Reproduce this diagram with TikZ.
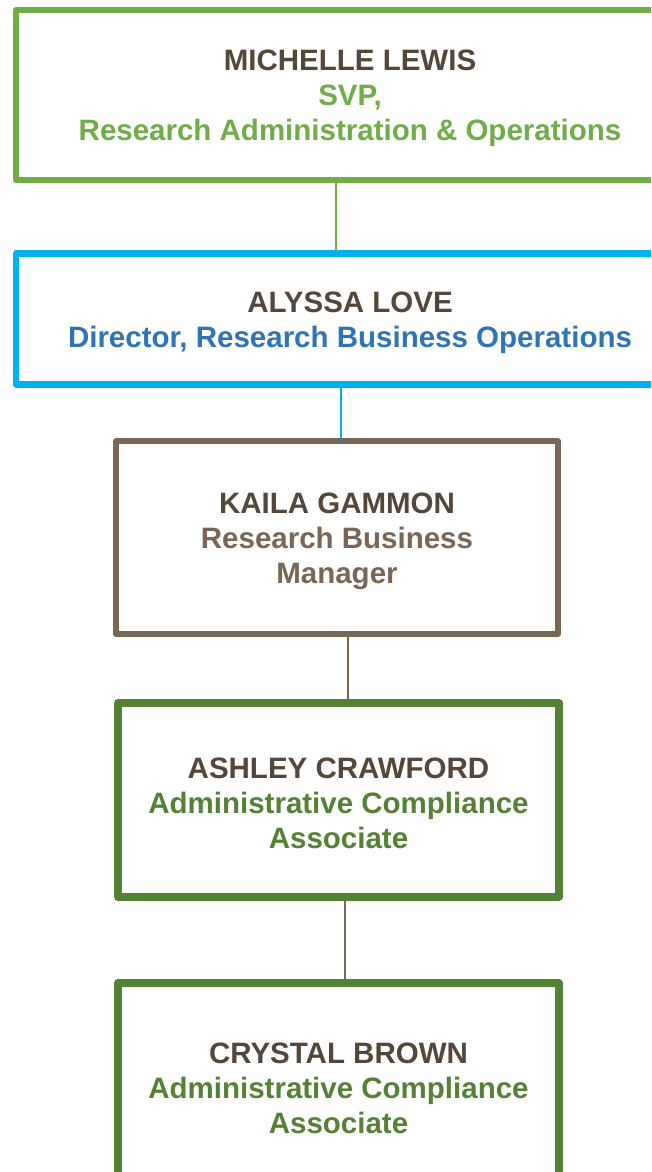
\documentclass[tikz,border=0pt]{standalone}
\usepackage{fontspec}
\setmainfont{Liberation Sans}
\usetikzlibrary{positioning}

\definecolor{namebrown}{RGB}{85,70,58}
\definecolor{svpgreen}{RGB}{112,173,71}
\definecolor{dircyan}{RGB}{0,176,240}
\definecolor{dirblue}{RGB}{46,117,182}
\definecolor{mgrbrown}{RGB}{122,102,84}
\definecolor{assocgreen}{RGB}{84,130,53}
\newcommand{\nm}[1]{\rule{0pt}{28pt}\textcolor{namebrown}{#1}}

\begin{document}
\begin{tikzpicture}[line cap=round,line join=round,x=1pt,y=-1pt,
		box/.style={draw,rectangle,fill=white,align=center,inner sep=0pt,
			font=\fontsize{29.5}{35}\selectfont\bfseries},
		lnk/.style={line width=2.5pt}]
		\useasboundingbox (0,0) rectangle (651,1172);
		\clip (0,0) rectangle (651,1172);
		%%%%%%%%%%%%%%% B O X E S %%%%%%%%%%%%%%%%
		%svp
		\node[box,line width=6.5pt,draw=svpgreen,text=svpgreen,minimum width=668pt,minimum height=170pt] (lewis) at (350,95)
			{\nm{MICHELLE LEWIS}\\SVP,\\Research Administration \& Operations};
		%director
		\node[box,line width=6.5pt,draw=dircyan,text=dirblue,minimum width=668pt,minimum height=131pt] (love) at (350,319)
			{\nm{ALYSSA LOVE}\\Director, Research Business Operations};
		%manager
		\node[box,line width=5.5pt,draw=mgrbrown,text=mgrbrown,minimum width=442pt,minimum height=193pt] (gammon) at (337,537.5)
			{\nm{KAILA GAMMON}\\Research Business\\Manager};
		%associates
		\node[box,line width=8pt,draw=assocgreen,text=assocgreen,minimum width=441.5pt,minimum height=193.5pt] (crawford) at (338.5,800)
			{\nm{ASHLEY CRAWFORD}\\Administrative Compliance\\Associate};
		\node[box,line width=8pt,draw=assocgreen,text=assocgreen,minimum width=441pt,minimum height=204pt] (brown) at (338.5,1085)
			{\nm{CRYSTAL BROWN}\\Administrative Compliance\\Associate};
		%%%%%%%%%%%%%%% L I N K S %%%%%%%%%%%%%%%%
		\draw[lnk,svpgreen] (336,0 |- lewis.south) -- (336,0 |- love.north);
		\draw[lnk,dircyan] (341,0 |- love.south) -- (341,0 |- gammon.north);
		\draw[lnk,mgrbrown] (348,0 |- gammon.south) -- (348,0 |- crawford.north);
		\draw[lnk,mgrbrown] (345,0 |- crawford.south) -- (345,0 |- brown.north);
	\end{tikzpicture}
\end{document}
